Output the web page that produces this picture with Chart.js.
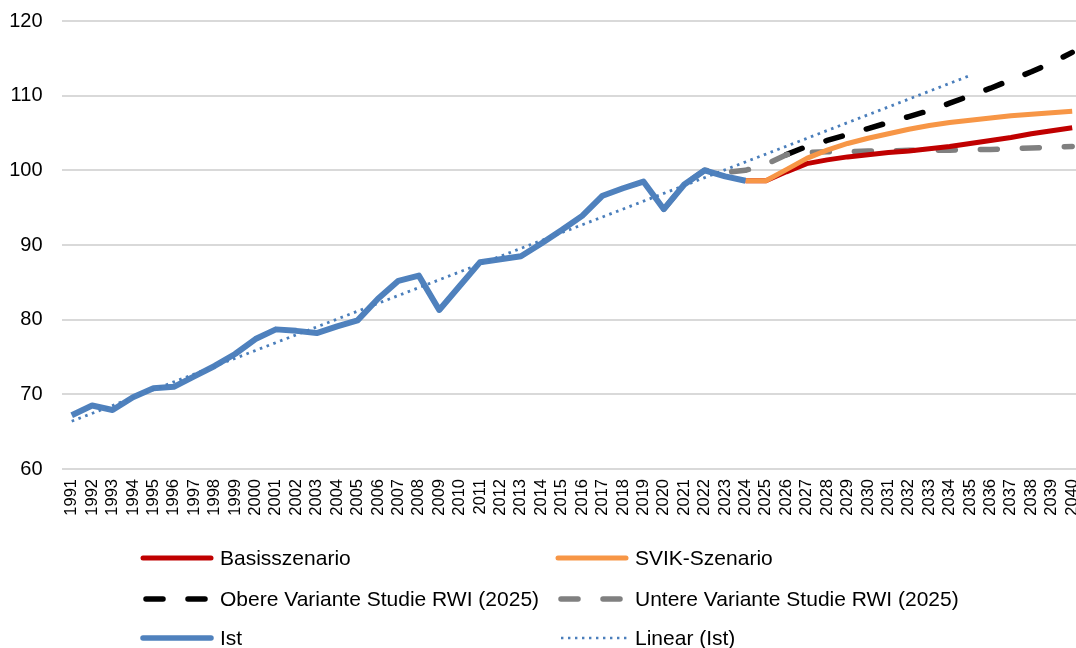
<!DOCTYPE html>
<html>
<head>
<meta charset="utf-8">
<script src="https://cdn.jsdelivr.net/npm/chart.js@4/dist/chart.umd.min.js"></script>
<style>
  html, body { margin: 0; padding: 0; background: #fff; overflow: hidden; width: 1076px; height: 648px; }
  #wrap { position: relative; width: 1102px; height: 648px; }
  canvas { position: absolute; left: 0; top: -10px; }
  .lg { position: absolute; font-family: "Liberation Sans", Arial, sans-serif; font-size: 21px; color: #000; white-space: nowrap; line-height: 24px; }
  .lgline { position: absolute; }
</style>
</head>
<body>
<div id="wrap">
  <canvas id="c" width="1102" height="658"></canvas>
  <div id="legend"></div>
</div>
<script>
// ---- Data ----
const years = ["1991","1992","1993","1994","1995","1996","1997","1998","1999","2000",
  "2001","2002","2003","2004","2005","2006","2007","2008","2009","2010",
  "2011","2012","2013","2014","2015","2016","2017","2018","2019","2020",
  "2021","2022","2023","2024","2025","2026","2027","2028","2029","2030",
  "2031","2032","2033","2034","2035","2036","2037","2038","2039","2040"];

// Ist: 1991–2024
const istValues = [67.2, 68.5, 67.9, 69.6, 70.8, 71.0, 72.4, 73.8, 75.4, 77.4,
  78.7, 78.5, 78.2, 79.1, 79.9, 82.8, 85.2, 85.9, 81.3, 84.5,
  87.7, 88.1, 88.5, 90.2, 92.0, 93.9, 96.6, 97.6, 98.5, 94.8,
  98.1, 100.0, 99.2, 98.6];

// Basisszenario: 2024–2040
const basisValues = [98.6, 98.6, 99.8, 100.9, 101.4, 101.8, 102.1, 102.4, 102.6,
  102.9, 103.2, 103.6, 104.0, 104.4, 104.9, 105.3, 105.7];

// SVIK-Szenario: 2024–2040
const svikValues = [98.6, 98.6, 100.1, 101.6, 102.7, 103.6, 104.3, 104.9, 105.5,
  106.0, 106.4, 106.7, 107.0, 107.3, 107.5, 107.7, 107.9];

// Obere Variante Studie RWI (2025): 2026–2040
const obereValues = [102.1, 103.2, 104.0, 104.8, 105.6, 106.4, 107.2, 108.0,
  109.0, 110.0, 111.0, 112.1, 113.2, 114.4, 115.8];

// Untere Variante Studie RWI (2025): 2020–2040
const untereValues = [94.8, 98.1, 100.0, 99.7, 100.0, 100.8, 102.1, 102.4, 102.5,
  102.5, 102.6, 102.6, 102.7, 102.7, 102.7, 102.8, 102.8, 102.9, 103.0, 103.1, 103.2];

// Linear (Ist): straight trend line, end points (1991 and 2035)
const trendStart = { year: "1991", value: 66.4 };
const trendEnd = { year: "2035", value: 112.7 };

const yTicks = [60, 70, 80, 90, 100, 110, 120];

const seriesNames = ["Basisszenario", "SVIK-Szenario", "Obere Variante Studie RWI (2025)",
  "Untere Variante Studie RWI (2025)", "Ist", "Linear (Ist)"];

// ---- Build aligned series ----
function alignFrom(startYear, vals) {
  const out = years.map(() => null);
  const s = years.indexOf(startYear);
  vals.forEach((v, i) => { out[s + i] = v; });
  return out;
}
const ist = alignFrom("1991", istValues);
const basis = alignFrom("2024", basisValues);
const svik = alignFrom("2024", svikValues);
const obere = alignFrom("2026", obereValues);
const untere = alignFrom("2020", untereValues);
const trend = years.map(() => null);
trend[years.indexOf(trendStart.year)] = trendStart.value;
trend[years.indexOf(trendEnd.year)] = trendEnd.value;

const COLORS = {
  basis: "#c00000", svik: "#f79646", obere: "#000000", untere: "#808080",
  ist: "#4f81bd", trend: "#4a7ebb", grid: "#d9d9d9"
};

const common = { pointRadius: 0, pointHoverRadius: 0, fill: false, tension: 0, borderJoinStyle: "round" };

new Chart(document.getElementById("c"), {
  type: "line",
  data: {
    labels: years,
    datasets: [
      Object.assign({ label: seriesNames[0], data: basis, borderColor: COLORS.basis, borderWidth: 5, order: 3 }, common),
      Object.assign({ label: seriesNames[1], data: svik, borderColor: COLORS.svik, borderWidth: 5, order: 2 }, common),
      Object.assign({ label: seriesNames[2], data: obere, borderColor: COLORS.obere, borderWidth: 5.5, borderDash: [17, 25], borderCapStyle: "round", order: 5 }, common),
      Object.assign({ label: seriesNames[3], data: untere, borderColor: COLORS.untere, borderWidth: 5.5, borderDash: [17, 25], borderCapStyle: "round", order: 4 }, common),
      Object.assign({ label: seriesNames[4], data: ist, borderColor: COLORS.ist, borderWidth: 6, order: 1 }, common),
      Object.assign({ label: seriesNames[5], data: trend, borderColor: COLORS.trend, borderWidth: 2.8, borderDash: [2.6, 4.6], spanGaps: true, order: 0 }, common)
    ]
  },
  options: {
    responsive: false,
    animation: false,
    devicePixelRatio: 1,
    layout: { padding: { top: 10, right: 0, bottom: 0, left: 0 } },
    plugins: { legend: { display: false }, tooltip: { enabled: false }, title: { display: false } },
    scales: {
      x: {
        type: "category",
        offset: true,
        grid: { display: false, drawTicks: false },
        border: { display: false },
        ticks: {
          autoSkip: false, minRotation: 90, maxRotation: 90, padding: 10,
          color: "#000", font: { family: "'Liberation Sans', Arial, sans-serif", size: 16.5 }
        },
        afterFit(scale) { scale.height = 179; }
      },
      y: {
        min: 60, max: 120,
        afterBuildTicks(scale) { scale.ticks = yTicks.map(v => ({ value: v })); },
        grid: { color: COLORS.grid, lineWidth: 2, drawTicks: false },
        border: { display: false },
        ticks: {
          padding: 19, color: "#000",
          font: { family: "'Liberation Sans', Arial, sans-serif", size: 20 }
        },
        afterFit(scale) { scale.width = 61.5; }
      }
    }
  }
});

// ---- HTML legend ----
const legendItems = [
  { name: seriesNames[0], color: COLORS.basis, w: 5, dash: null, cap: "round", col: 0, row: 0 },
  { name: seriesNames[1], color: COLORS.svik, w: 5, dash: null, cap: "round", col: 1, row: 0 },
  { name: seriesNames[2], color: COLORS.obere, w: 5.5, dash: "17 25", cap: "round", col: 0, row: 1 },
  { name: seriesNames[3], color: COLORS.untere, w: 5.5, dash: "17 25", cap: "round", col: 1, row: 1 },
  { name: seriesNames[4], color: COLORS.ist, w: 5.5, dash: null, cap: "round", col: 0, row: 2 },
  { name: seriesNames[5], color: COLORS.trend, w: 2.6, dash: "2.4 4.6", cap: "butt", col: 1, row: 2 }
];
const colX = [143, 558];
const rowY = [558, 599, 638];
const lg = document.getElementById("legend");
legendItems.forEach(it => {
  const x = colX[it.col], y = rowY[it.row];
  const svg = `<svg class="lgline" width="76" height="12" style="left:${x - 3}px;top:${y - 6}px">` +
    `<line x1="3" y1="6" x2="${it.dash ? 74 : 71}" y2="6" stroke="${it.color}" stroke-width="${it.w}" stroke-linecap="${it.cap}"` +
    (it.dash ? ` stroke-dasharray="${it.dash}" stroke-dashoffset="-3"` : "") + `/></svg>`;
  const d = document.createElement("div");
  d.innerHTML = svg + `<div class="lg" style="left:${x + 77}px;top:${y - 12}px">${it.name}</div>`;
  lg.appendChild(d);
});
</script>
</body>
</html>
